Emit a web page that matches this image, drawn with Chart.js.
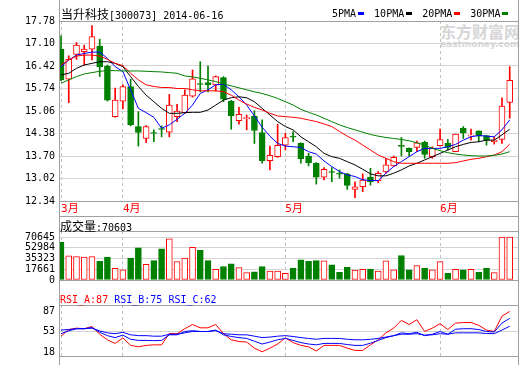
<!DOCTYPE html>
<html lang="zh-CN">
<head>
<meta charset="utf-8">
<title>当升科技 300073</title>
<script src="https://cdn.jsdelivr.net/npm/chart.js@4.4.1/dist/chart.umd.min.js"></script>
<style>
  html, body { margin: 0; padding: 0; background: #fff; }
  #wrap { position: relative; width: 520px; height: 365px; overflow: hidden; }
  #wrap canvas { position: absolute; left: 0; }
  .txt { position: absolute; white-space: nowrap; font: 10px "DejaVu Sans Mono", monospace; line-height: 14px; color: #000; }
  .cjk { font-family: "Noto Sans CJK SC", sans-serif; font-size: 12px; }
  .key { display: inline-block; width: 6px; height: 3px; margin: 0 10px 0 2px; vertical-align: 2px; }
  .wm { position: absolute; left: 440px; top: 23px; color: #d6d6d6; font: bold 16px "Noto Sans CJK SC", sans-serif; line-height: 17px; }
  .wm small { display: block; font: bold 9px "DejaVu Sans", sans-serif; line-height: 9px; }
</style>
</head>
<body>
<div id="wrap">
  <div class="wm">东方财富网<small>eastmoney.com</small></div>
  <canvas id="chartK" width="520" height="216" style="top:0"></canvas>
  <canvas id="chartVol" width="520" height="74" style="top:216px"></canvas>
  <canvas id="chartRsi" width="520" height="77" style="top:289px"></canvas>
  <div class="txt" id="title" style="left:61px;top:7px"></div>
  <div class="txt" id="maKeys" style="left:332px;top:7px"></div>
  <div class="txt" id="volTitle" style="left:60px;top:219px"></div>
  <div class="txt" id="rsiTitle" style="left:60px;top:293px"></div>
</div>
<script>
const STOCK_NAME = '当升科技';
const STOCK_CODE = '300073';
const YEAR = '2014';

// trading days shown (2014)
const DATES = ['03-20','03-21','03-24','03-25','03-26','03-27','03-28','03-31',
  '04-01','04-02','04-03','04-04','04-08','04-09','04-10','04-11','04-14','04-15','04-16','04-17','04-18',
  '04-21','04-22','04-23','04-24','04-25','04-28','04-29','04-30',
  '05-05','05-06','05-07','05-08','05-09','05-12','05-13','05-14','05-15','05-16','05-19','05-20',
  '05-21','05-22','05-23','05-26','05-27','05-28','05-29','05-30',
  '06-03','06-04','06-05','06-06','06-09','06-10','06-11','06-12','06-13','06-16'];

const OPEN = [16.93,16.02,16.77,16.85,16.93,17.02,16.42,14.89,15.36,15.80,
  14.59,14.23,14.40,14.52,14.42,14.89,15.01,15.51,15.88,15.92,
  15.85,16.07,15.36,14.77,14.83,14.91,14.41,13.56,13.68,14.03,
  14.29,14.08,13.70,13.48,13.06,13.22,13.17,13.16,12.69,12.77,
  13.06,12.95,13.22,13.40,14.01,13.93,13.96,14.11,13.68,14.01,
  14.08,13.83,14.54,14.30,14.46,14.32,14.13,14.20,15.32];
const HIGH = [17.33,16.73,17.13,17.05,17.64,17.23,16.45,15.75,15.85,16.02,
  15.04,14.62,14.49,14.61,15.56,15.26,15.70,16.30,16.55,16.42,
  16.12,16.10,15.38,15.17,14.94,15.07,14.79,14.00,14.66,14.39,
  14.44,14.10,13.78,13.50,13.35,13.35,13.28,13.18,12.92,13.16,
  13.33,13.23,13.63,13.70,14.26,13.95,14.15,14.15,13.98,14.51,
  14.20,14.36,14.59,14.51,14.46,14.32,14.28,15.46,16.40];
const LOW = [15.98,15.31,16.62,16.45,16.60,16.10,15.36,14.87,15.12,14.61,
  14.00,14.10,14.13,14.28,14.28,14.74,14.98,15.48,15.64,15.64,
  15.66,15.34,14.51,14.66,14.49,14.08,13.48,13.28,13.66,13.88,
  14.13,13.48,13.40,12.85,12.98,12.92,13.03,12.69,12.44,12.62,
  12.82,12.89,13.18,13.38,13.70,13.70,13.83,13.63,13.63,14.00,
  13.88,13.83,14.23,14.18,14.13,14.03,14.06,14.08,14.84];
const CLOSE = [16.00,16.62,17.05,16.93,17.31,16.40,15.39,15.39,15.80,14.64,
  14.41,14.59,14.38,14.50,15.24,15.06,15.54,16.03,15.86,15.85,
  16.10,15.42,14.91,14.96,14.86,14.47,13.56,13.72,14.02,14.26,
  14.27,13.62,13.50,13.06,13.30,13.20,13.15,12.81,12.77,12.97,
  12.92,13.18,13.43,13.66,13.99,13.83,14.10,13.75,13.93,14.20,
  13.96,14.36,14.40,14.32,14.30,14.18,14.18,15.21,15.99];

const MA5 = [16.40,16.60,16.75,16.80,16.84,16.84,16.65,16.40,16.25,15.70,
  15.14,15.01,14.87,14.54,14.64,14.81,14.99,15.24,15.59,15.70,
  15.85,15.87,15.70,15.49,15.24,14.91,14.57,14.30,14.08,14.00,
  13.98,13.96,13.83,13.76,13.55,13.38,13.23,13.13,13.08,12.98,
  12.96,12.96,13.18,13.38,13.53,13.68,13.83,13.93,13.93,13.93,
  13.98,14.05,14.18,14.28,14.32,14.30,14.28,14.49,14.79];
const MA10 = [16.15,16.20,16.35,16.45,16.50,16.55,16.55,16.50,16.40,16.10,
  15.80,15.54,15.34,15.14,14.99,14.99,15.01,15.02,15.02,15.09,
  15.24,15.39,15.46,15.49,15.46,15.34,15.14,14.94,14.74,14.59,
  14.49,14.28,14.13,13.98,13.78,13.68,13.63,13.53,13.43,13.30,
  13.16,13.10,13.10,13.18,13.28,13.40,13.48,13.58,13.68,13.78,
  13.88,13.98,14.05,14.11,14.13,14.18,14.18,14.34,14.51];
const MA20 = [16.45,16.60,16.72,16.75,16.75,16.72,16.62,16.50,16.43,16.20,
  16.00,15.85,15.80,15.77,15.77,15.74,15.74,15.70,15.67,15.67,
  15.67,15.64,15.54,15.39,15.27,15.17,15.09,14.99,14.91,14.89,
  14.87,14.84,14.79,14.74,14.67,14.59,14.44,14.30,14.18,14.03,
  13.88,13.73,13.63,13.53,13.48,13.48,13.48,13.48,13.48,13.48,
  13.48,13.50,13.55,13.60,13.63,13.68,13.73,13.83,14.06];
const MA30 = [15.90,16.00,16.10,16.18,16.22,16.26,16.28,16.28,16.27,16.27,
  16.27,16.26,16.25,16.24,16.22,16.20,16.12,16.09,16.05,16.00,
  15.95,15.88,15.82,15.76,15.70,15.64,15.59,15.52,15.44,15.34,
  15.24,15.11,15.02,14.94,14.84,14.74,14.64,14.56,14.49,14.42,
  14.35,14.30,14.26,14.23,14.20,14.16,14.10,14.03,13.93,13.86,
  13.80,13.76,13.73,13.71,13.70,13.70,13.72,13.76,13.83];

const VOLUME = [62700,39950,38550,37620,38550,30660,37620,19050,16720,36230,
  52950,26010,32050,51560,67820,30190,36230,53880,48770,32050,
  17650,22300,26480,20440,12080,13470,22300,14860,14860,11150,
  19510,33440,30660,32050,31590,25080,12540,20900,16260,17650,
  18120,14860,31590,16720,40410,16720,23690,19510,16720,30190,
  11150,17650,16720,17650,12540,19510,12080,70645,70603];

const RSI_A = [45.3,56.5,58.9,57.9,61.7,48.6,39.2,33.1,42.4,29.8,
  27.4,29.8,30.7,30.7,50.0,49.5,57.9,65.0,59.4,59.4,
  65.0,49.5,39.2,36.3,35.4,25.1,19.0,25.1,32.1,42.4,
  34.5,29.8,27.4,20.4,29.8,29.8,29.8,25.1,21.3,21.3,
  30.7,39.2,50.9,58.9,72.0,65.0,73.0,53.2,58.9,66.4,
  56.5,67.3,68.3,68.3,63.6,55.6,53.2,79.1,87.0];
const RSI_B = [49.5,54.2,57.9,57.9,59.8,51.8,46.2,42.9,47.1,40.1,
  38.2,38.2,37.8,38.2,47.6,47.6,53.2,54.6,53.2,53.2,
  55.6,47.6,44.8,42.9,41.5,36.8,32.1,35.4,39.2,41.5,
  38.2,34.5,32.1,30.7,33.1,33.1,33.1,31.2,29.8,29.8,
  33.5,38.2,42.9,46.2,50.9,49.5,51.8,46.2,48.6,53.2,
  48.6,57.0,57.9,57.9,56.5,53.2,52.3,67.3,75.3];
const RSI_C = [55.6,56.5,57.9,57.9,58.9,54.2,50.9,49.5,51.8,47.6,
  46.2,46.2,45.3,45.3,48.6,48.6,50.9,53.2,53.2,53.2,
  54.6,49.5,48.6,47.6,47.6,45.3,42.9,43.8,45.3,46.2,
  44.8,42.9,41.5,40.1,41.5,41.5,41.5,40.1,39.2,39.2,
  40.1,41.5,43.8,46.2,48.6,48.6,49.5,47.1,47.6,49.5,
  48.6,50.9,50.9,50.9,50.9,49.9,49.5,55.6,62.0];

const PRICE_TICKS = [17.78, 17.10, 16.42, 15.74, 15.06, 14.38, 13.70, 13.02, 12.34];
const VOL_TICKS = [70645, 52984, 35323, 17661, 0];
const RSI_TICKS = [87, 53, 18];
const MONTH_LABELS = ['3月', '4月', '5月', '6月'];
const MA_NAMES = ['5PMA', '10PMA', '20PMA', '30PMA'];

const UP = '#ff0000', DOWN = '#008000';
const MA_COLORS = ['#0000ff', '#000000', '#ff0000', '#008000'];
const GRID = '#d4d4d4', FRAME = '#a0a0a0';
const TICK_FONT = { family: '"DejaVu Sans Mono", monospace', size: 10 };

// index of the first trading day of each month (dashed separators)
const MONTH_IDX = DATES.reduce((acc, d, i) => {
  if (i === 0 || d.slice(0, 2) !== DATES[i - 1].slice(0, 2)) acc.push(i);
  return acc;
}, []);

const isUp = (i) => CLOSE[i] >= OPEN[i];
const pts = (arr) => arr.map((v, i) => ({ x: i, y: v }));

// gray box round the plot + side rails down to the canvas edges
const framePlugin = {
  id: 'frame',
  afterDraw(chart, args, opts) {
    const { ctx, chartArea: a, height } = chart;
    const l = Math.round(a.left) + 0.5, r = Math.round(a.right) - 0.5;
    const t = Math.round(a.top) + 0.5, b = Math.round(a.bottom) + 0.5;
    ctx.save();
    ctx.strokeStyle = FRAME;
    ctx.lineWidth = 1;
    ctx.beginPath();
    ctx.rect(l, t, r - l, b - t);
    ctx.moveTo(l, 0); ctx.lineTo(l, height);
    ctx.moveTo(r, 0); ctx.lineTo(r, height);
    if (opts.topLine) { ctx.moveTo(l, 0.5); ctx.lineTo(r, 0.5); }
    ctx.stroke();
    ctx.restore();
  }
};

function xAxis(showLabels) {
  return {
    type: 'linear',
    min: -0.26,
    max: 59.2,
    offset: false,
    afterBuildTicks: (s) => { s.ticks = MONTH_IDX.map(v => ({ value: v })); },
    afterFit: (s) => { s.height = showLabels ? 15 : 0; },
    ticks: {
      display: showLabels,
      autoSkip: false,
      align: 'start',
      padding: 2,
      color: UP,
      font: { family: '"DejaVu Sans Mono", "Noto Sans CJK SC", monospace', size: 11 },
      callback: (v) => MONTH_LABELS[MONTH_IDX.indexOf(v)]
    },
    grid: { color: '#c0c0c0', drawTicks: false, offset: false },
    border: { display: false, dash: [3, 3] }
  };
}

function yAxis(min, max, ticks, fmt, gridColor) {
  return {
    min,
    max,
    afterBuildTicks: (s) => { s.ticks = ticks.map(v => ({ value: v })); },
    afterFit: (s) => { s.width = 59; },
    ticks: { color: '#000', padding: 4, autoSkip: false, font: TICK_FONT, callback: fmt },
    grid: { color: gridColor || GRID, drawTicks: false },
    border: { display: false }
  };
}

function baseOptions(padding, topLine, scales) {
  return {
    responsive: false,
    animation: false,
    events: [],
    layout: { padding },
    plugins: { legend: { display: false }, tooltip: { enabled: false }, frame: { topLine } },
    scales
  };
}

function maLine(values, color) {
  return {
    type: 'line',
    data: pts(values),
    borderColor: color,
    borderWidth: 1,
    pointRadius: 0,
    fill: false,
    tension: 0,
    order: 1
  };
}

function buildTexts() {
  document.getElementById('title').innerHTML =
    `<span class="cjk">${STOCK_NAME}</span>[${STOCK_CODE}] ${YEAR}-${DATES[DATES.length - 1]}`;
  document.getElementById('maKeys').innerHTML = MA_NAMES
    .map((n, i) => `${n}<span class="key" style="background:${MA_COLORS[i]}"></span>`).join('');
  document.getElementById('volTitle').innerHTML =
    `<span class="cjk">成交量</span>:${VOLUME[VOLUME.length - 1]}`;
  const last = (a) => Math.round(a[a.length - 1]);
  document.getElementById('rsiTitle').innerHTML =
    `<span style="color:${UP}">RSI_A:${last(RSI_A)}</span> ` +
    `<span style="color:#0000ff">RSI_B:${last(RSI_B)}</span> ` +
    `<span style="color:#0000ff">RSI_C:${last(RSI_C)}</span>`;
}

function buildPriceChart() {
  const idx = DATES.map((d, i) => i);
  const col = idx.map(i => isUp(i) ? UP : DOWN);
  const fill = idx.map(i => isUp(i) ? '#ffffff' : DOWN);
  new Chart(document.getElementById('chartK'), {
    type: 'bar',
    data: {
      datasets: [
        {
          data: idx.map(i => ({ x: i, y: [LOW[i], HIGH[i]] })),
          backgroundColor: col,
          borderWidth: 0,
          barThickness: 1,
          grouped: false,
          order: 3
        },
        {
          data: idx.map(i => ({ x: i, y: [OPEN[i], CLOSE[i]] })),
          backgroundColor: fill,
          borderColor: col,
          borderWidth: 1,
          borderSkipped: false,
          barThickness: 6,
          minBarLength: 1,
          grouped: false,
          order: 2
        },
        maLine(MA30, MA_COLORS[3]),
        maLine(MA20, MA_COLORS[2]),
        maLine(MA10, MA_COLORS[1]),
        maLine(MA5, MA_COLORS[0])
      ]
    },
    options: baseOptions({ top: 21, right: 1, left: 0, bottom: 0 }, false, {
      x: xAxis(true),
      y: yAxis(12.34, 17.78, PRICE_TICKS, v => v.toFixed(2))
    }),
    plugins: [framePlugin]
  });
}

function buildVolumeChart() {
  const col = VOLUME.map((v, i) => isUp(i) ? UP : DOWN);
  const fill = VOLUME.map((v, i) => isUp(i) ? '#ffffff' : DOWN);
  new Chart(document.getElementById('chartVol'), {
    type: 'bar',
    data: {
      datasets: [{
        data: pts(VOLUME),
        backgroundColor: fill,
        borderColor: col,
        borderWidth: 1,
        borderSkipped: false,
        barThickness: 6,
        grouped: false
      }]
    },
    options: baseOptions({ top: 15, right: 1, left: 0, bottom: 1 }, true, {
      x: xAxis(false),
      y: yAxis(0, 80800, VOL_TICKS, v => String(v))
    }),
    plugins: [framePlugin]
  });
}

function buildRsiChart() {
  const line = (values, color) => ({
    data: pts(values), borderColor: color, borderWidth: 1, pointRadius: 0, fill: false, tension: 0
  });
  new Chart(document.getElementById('chartRsi'), {
    type: 'line',
    data: { datasets: [line(RSI_C, '#0000ff'), line(RSI_B, '#0000ff'), line(RSI_A, UP)] },
    options: baseOptions({ top: 16, right: 1, left: 0, bottom: 0 }, false, {
      x: xAxis(false),
      y: yAxis(11.9, 97.85, RSI_TICKS, v => String(v),
        (c) => (c.tick && c.tick.value === RSI_TICKS[1]) ? GRID : 'rgba(0,0,0,0)')
    }),
    plugins: [framePlugin]
  });
}

function init() {
  buildTexts();
  buildPriceChart();
  buildVolumeChart();
  buildRsiChart();
}

document.addEventListener('DOMContentLoaded', init);
</script>
</body>
</html>
